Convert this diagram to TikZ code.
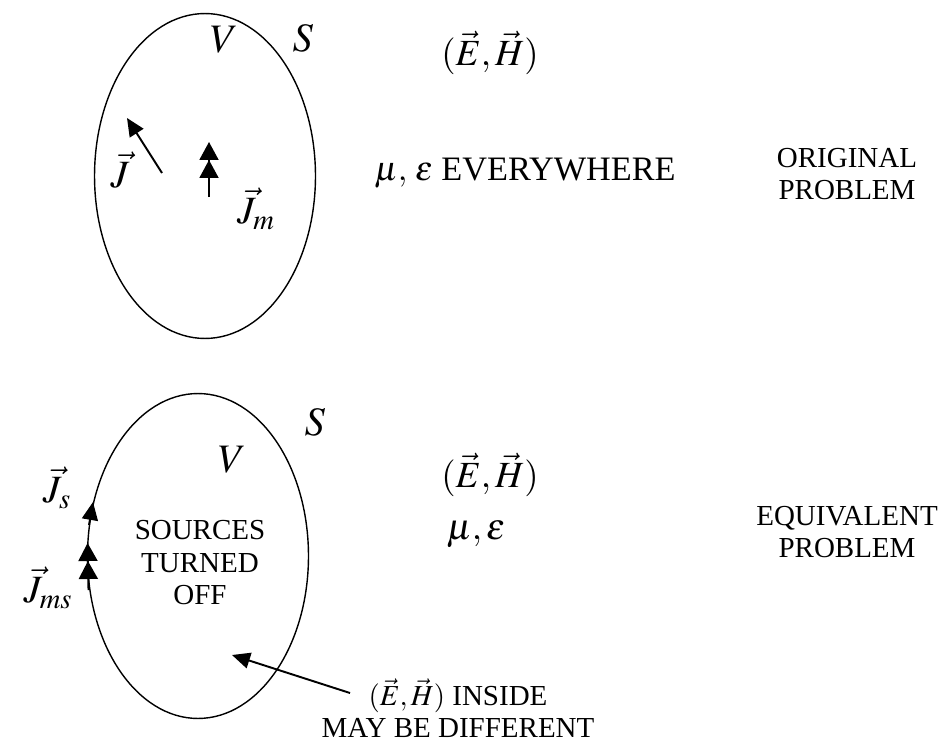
\documentclass[tikz,border=0pt]{standalone}
\usepackage{mathptmx}
\usepackage[no-math]{fontspec}
\setmainfont{Liberation Serif}
\usetikzlibrary{arrows.meta,shapes.geometric}

\begin{document}
\begin{tikzpicture}[x=0.02cm, y=-0.02cm,
  surf/.style={draw, ellipse, line width=0.8pt, inner sep=0pt,
    minimum width=4.42cm, minimum height=6.5cm},
  txt/.style={font=\fontsize{16.5}{18.5}\selectfont, align=center, inner sep=0pt},
  wide/.style={font=\fontsize{19.5}{22}\selectfont, inner sep=0pt},
  big/.style={font=\fontsize{23}{26}\selectfont, inner sep=0pt},
  mid/.style={font=\fontsize{21}{24}\selectfont, inner sep=0pt},
  cur/.style={font=\fontsize{22}{26}\selectfont, inner sep=0pt},
  arr/.style={-{Triangle[length=0.36cm, width=0.32cm]}, line width=1.1pt},
  darr/.style={-{Triangle[length=0.36cm, width=0.38cm, sep=0pt]
    Triangle[length=0.36cm, width=0.38cm]}, line width=1.1pt},
]
\useasboundingbox (0,0) rectangle (942,743);

% original problem
\node[surf] (vol1) at (205,176) {};
\node[big] (v1) at (224,40) {$V$};
\node[big] (s1) at (303,38) {$S$};
\node[mid] (f1) at (490,53) {$(\vec{E},\vec{H})$};
\node[wide] (med1) at (525,173) {$\mu,\,\varepsilon$ EVERYWHERE};
\node[txt] (lab1) at (847,174) {ORIGINAL\\PROBLEM};

\coordinate (j0) at (162,173);
\coordinate (j1) at (127,118);
\draw[arr] (j0) -- (j1);
\node[cur] (jl) at (120,170) {$\vec{J}$};

\coordinate (jm0) at (209,197);
\coordinate (jm1) at (209,142);
\draw[darr] (jm0) -- (jm1);
\node[cur] (jml) at (256,209) {$\vec{J}_m$};

% equivalent problem
\node[surf] (vol2) at (198,556) {};
\node[big] (v2) at (232,460) {$V$};
\node[big] (s2) at (315,422) {$S$};
\node[mid] (f2) at (490,475) {$(\vec{E},\vec{H})$};
\node[mid] (med2) at (476,534) {$\mu,\varepsilon$};
\node[txt] (lab2) at (847,532) {EQUIVALENT\\PROBLEM};
\node[txt] (off) at (200,563) {SOURCES\\TURNED\\OFF};

\coordinate (js0) at (89,525);
\coordinate (js1) at (93,502);
\draw[arr] (js0) -- (js1);
\node[cur] (jsl) at (57,488) {$\vec{J}_s$};

\coordinate (jms0) at (88.5,590);
\coordinate (jms1) at (87.6,543);
\draw[darr] (jms0) -- (jms1);
\node[cur] (jmsl) at (48,588) {$\vec{J}_{ms}$};

\node[txt] (note) at (458,708) {$(\vec{E},\vec{H})$ INSIDE\\MAY BE DIFFERENT};
\coordinate (n0) at (350,693);
\coordinate (n1) at (232,655);
\draw[arr] (n0) -- (n1);

\end{tikzpicture}
\end{document}
